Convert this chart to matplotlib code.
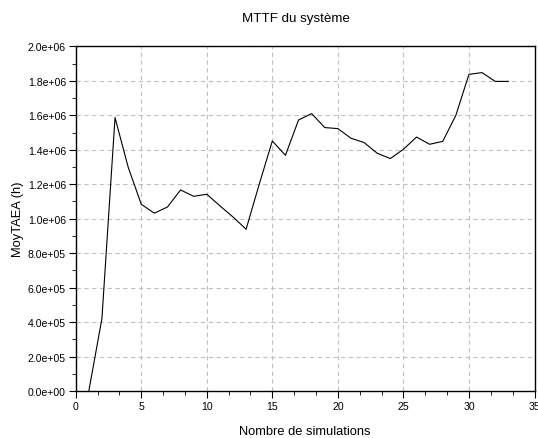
import matplotlib
matplotlib.use("Agg")
import matplotlib.pyplot as plt
from matplotlib.ticker import MultipleLocator, FuncFormatter

simulations = list(range(1, 34))
mttf = [0.0, 4.2e5, 1.587e6, 1.30e6, 1.084e6, 1.032e6, 1.068e6, 1.167e6, 1.13e6, 1.142e6,
        1.075e6, 1.01e6, 0.939e6, 1.20e6, 1.451e6, 1.368e6, 1.573e6, 1.61e6, 1.529e6, 1.523e6,
        1.467e6, 1.442e6, 1.38e6, 1.349e6, 1.403e6, 1.474e6, 1.432e6, 1.449e6, 1.60e6, 1.838e6,
        1.848e6, 1.797e6, 1.797e6]

title = "MTTF du système"
xlabel = "Nombre de simulations"
ylabel = "MoyTAEA (h)"

plt.rcParams['font.family'] = ['Liberation Sans', 'DejaVu Sans']

fig = plt.figure(figsize=(5.38, 4.39), dpi=100)
ax = fig.add_axes([0.1407, 0.107, 0.9935 - 0.1407, 0.892 - 0.107])

ax.plot(simulations, mttf, color='black', linewidth=0.8)

ax.set_xlim(0, 35)
ax.set_ylim(0, 2.0e6)
ax.xaxis.set_major_locator(MultipleLocator(5))
ax.xaxis.set_minor_locator(MultipleLocator(5 / 3))
ax.yaxis.set_major_locator(MultipleLocator(2e5))
ax.yaxis.set_minor_locator(MultipleLocator(1e5))

def sci(v, pos):
    return "%.1e" % v

ax.yaxis.set_major_formatter(FuncFormatter(sci))

ax.grid(True, which='major', linestyle=(0, (4, 3)), color='#c0c0c0', linewidth=0.8)
ax.tick_params(which='both', direction='out', labelsize=7.6, colors='black')
ax.tick_params(which='major', length=5, pad=2)
ax.tick_params(which='minor', length=3)
for sp in ax.spines.values():
    sp.set_linewidth(1.0)

ax.set_title(title, fontsize=9.6, pad=18, x=0.48)
ax.set_xlabel(xlabel, fontsize=9.3, labelpad=10)
ax.set_ylabel(ylabel, fontsize=9.3, labelpad=3)

fig.savefig("out.png", dpi=100)
